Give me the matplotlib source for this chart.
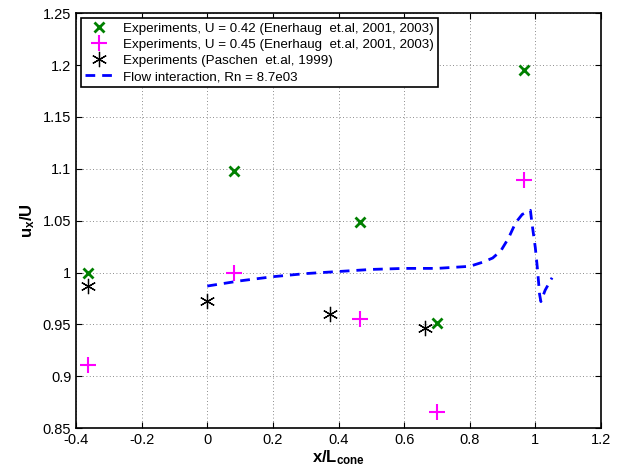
import matplotlib
matplotlib.use('Agg')
import matplotlib.pyplot as plt
import numpy as np

plt.rcParams['font.family'] = ['Liberation Sans', 'DejaVu Sans']
plt.rcParams['mathtext.fontset'] = 'custom'
plt.rcParams['mathtext.rm'] = 'Liberation Sans'
plt.rcParams['mathtext.bf'] = 'Liberation Sans:bold'
plt.rcParams['axes.unicode_minus'] = True

# Enerhaug et al, U = 0.42
x_u42 = [-0.365, 0.08, 0.465, 0.70, 0.965]
y_u42 = [1.000, 1.098, 1.049, 0.951, 1.195]

# Enerhaug et al, U = 0.45
x_u45 = [-0.365, 0.08, 0.465, 0.70, 0.965]
y_u45 = [0.911, 1.000, 0.955, 0.866, 1.089]

# Paschen et al, 1999
x_pas = [-0.365, 0.0, 0.375, 0.665]
y_pas = [0.987, 0.973, 0.960, 0.947]

# flow interaction simulation
x_sim = [0.0, 0.1, 0.2, 0.3, 0.4, 0.5, 0.6, 0.7, 0.8, 0.84, 0.87, 0.895,
         0.918, 0.94, 0.96, 0.985, 0.99, 1.0, 1.007, 1.013, 1.017, 1.03, 1.051]
y_sim = [0.987, 0.992, 0.996, 0.999, 1.001, 1.003, 1.004, 1.004, 1.006, 1.010,
         1.014, 1.021, 1.033, 1.048, 1.056, 1.060, 1.047, 1.024, 1.002, 0.979,
         0.972, 0.983, 0.995]

xticks = [-0.4, -0.2, 0, 0.2, 0.4, 0.6, 0.8, 1, 1.2]
yticks = [0.85, 0.9, 0.95, 1, 1.05, 1.1, 1.15, 1.2, 1.25]

fig = plt.figure(figsize=(6.24, 4.70), dpi=100)
ax = fig.add_axes([0.122, 0.089, 0.841, 0.883])

ax.plot(x_u42, y_u42, linestyle='none', marker='x', color='#008000',
        markersize=7, markeredgewidth=2,
        label='Experiments, U = 0.42 (Enerhaug  et.al, 2001, 2003)')
ax.plot(x_u45, y_u45, linestyle='none', marker='+', color='#ff00ff',
        markersize=11, markeredgewidth=1.5,
        label='Experiments, U = 0.45 (Enerhaug  et.al, 2001, 2003)')
ax.plot(x_pas, y_pas, linestyle='none', marker=(6, 2, 0), color='black',
        markersize=11, markeredgewidth=0.9,
        label='Experiments (Paschen  et.al, 1999)')
ax.plot(x_sim, y_sim, linestyle=(0, (3.5, 2.5)), color='#0000ff', linewidth=2,
        label='Flow interaction, Rn = 8.7e03')

ax.set_xlim(-0.4, 1.2)
ax.set_ylim(0.85, 1.25)
ax.set_xticks(xticks)
ax.set_yticks(yticks)
ax.set_xticklabels(['%g' % t for t in xticks])
ax.set_yticklabels(['%g' % t for t in yticks])
ax.tick_params(direction='in', labelsize=10.5, length=4, top=True, right=True)
ax.grid(True, linestyle=(0, (1, 3)), color='#666666', linewidth=0.6)
for s in ax.spines.values():
    s.set_linewidth(1.2)

ax.set_xlabel(r'$\mathbf{x/L_{cone}}$', fontsize=12, labelpad=1)
ax.set_ylabel(r'$\mathbf{u_x/U}$', fontsize=12, labelpad=4)

leg = ax.legend(loc='upper left', fontsize=9.6, frameon=True, fancybox=False,
                edgecolor='black', framealpha=1, borderpad=0.3,
                labelspacing=0.28, handlelength=2.0, handletextpad=0.8,
                borderaxespad=0.4)
leg.get_frame().set_linewidth(1.2)

fig.savefig('out.png', dpi=100)
